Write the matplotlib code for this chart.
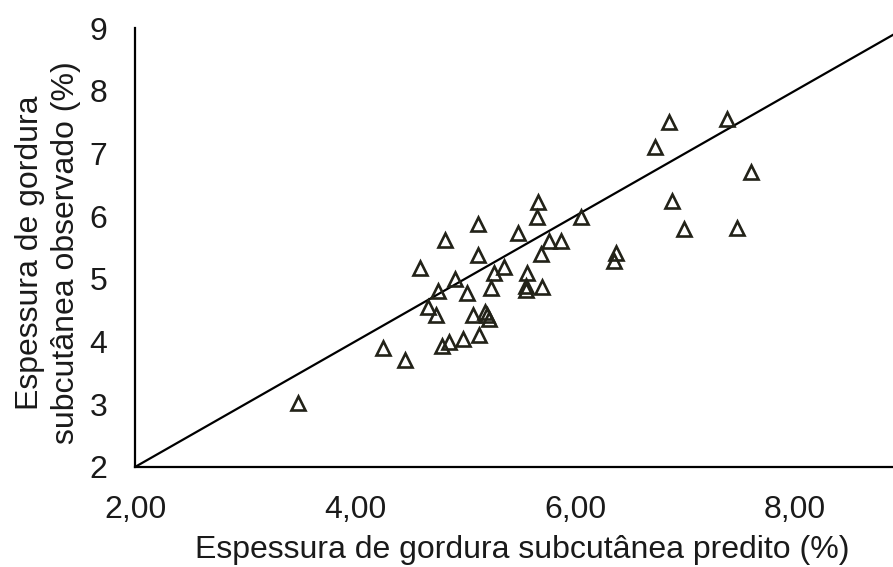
import matplotlib.pyplot as plt
import numpy as np

plt.rcParams['font.family'] = ['Liberation Sans', 'DejaVu Sans']

# predicted vs observed subcutaneous fat thickness (%)
predito = [3.48, 4.25, 4.45, 4.59, 4.66, 4.74, 4.75, 4.79, 4.82, 4.85,
           4.91, 4.98, 5.02, 5.07, 5.12, 5.12, 5.13, 5.18, 5.20, 5.22,
           5.24, 5.26, 5.35, 5.48, 5.55, 5.55, 5.56, 5.65, 5.66, 5.69,
           5.70, 5.76, 5.87, 6.05, 6.35, 6.37, 6.73, 6.85, 6.88, 6.99,
           7.38, 7.47, 7.60]
observado = [3.02, 3.90, 3.71, 5.17, 4.55, 4.42, 4.81, 3.93, 5.62, 4.00,
             5.00, 4.04, 4.78, 4.42, 5.88, 5.38, 4.11, 4.47, 4.42, 4.36,
             4.85, 5.09, 5.19, 5.73, 4.88, 4.82, 5.09, 5.99, 6.23, 5.40,
             4.87, 5.61, 5.61, 5.99, 5.29, 5.41, 7.10, 7.50, 6.24, 5.80,
             7.55, 5.81, 6.71]

x_ticks = [2, 4, 6, 8]
x_ticklabels = ['2,00', '4,00', '6,00', '8,00']
y_ticks = [2, 3, 4, 5, 6, 7, 8, 9]

W, H = 893, 567
fig = plt.figure(figsize=(W / 100, H / 100), dpi=100)
ax = fig.add_axes([135 / W, (H - 467) / H, (905 - 135) / W, (467 - 28) / H])

txt = '#1a1a1a'
ax.plot([2, 9], [2, 9], color='black', lw=1.6, zorder=2)
ax.plot(predito, observado, linestyle='none', marker='^', markersize=10,
        markerfacecolor='none', markeredgecolor='#222218', markeredgewidth=1.9,
        zorder=3)

ax.set_xlim(2, 9)
ax.set_ylim(2, 9)
ax.set_xticks(x_ticks)
ax.set_xticklabels(x_ticklabels)
ax.set_yticks(y_ticks)
ax.tick_params(axis='both', length=0, labelsize=23, labelcolor=txt)
ax.tick_params(axis='x', pad=20)
ax.tick_params(axis='y', pad=20)

for s in ['top', 'right']:
    ax.spines[s].set_visible(False)
for s in ['left', 'bottom']:
    ax.spines[s].set_linewidth(1.6)
    ax.spines[s].set_color('black')

fig.text((195 + 850) / 2 / W, 1 - 550 / H, 'Espessura de gordura subcutânea predito (%)',
         ha='center', va='center', fontsize=23, color=txt)
fig.text(48 / W, 1 - 253 / H, 'Espessura de gordura\nsubcutânea observado (%)',
         ha='center', va='center', rotation=90, fontsize=23, color=txt,
         linespacing=1.25)

fig.savefig('out.png', dpi=100)
